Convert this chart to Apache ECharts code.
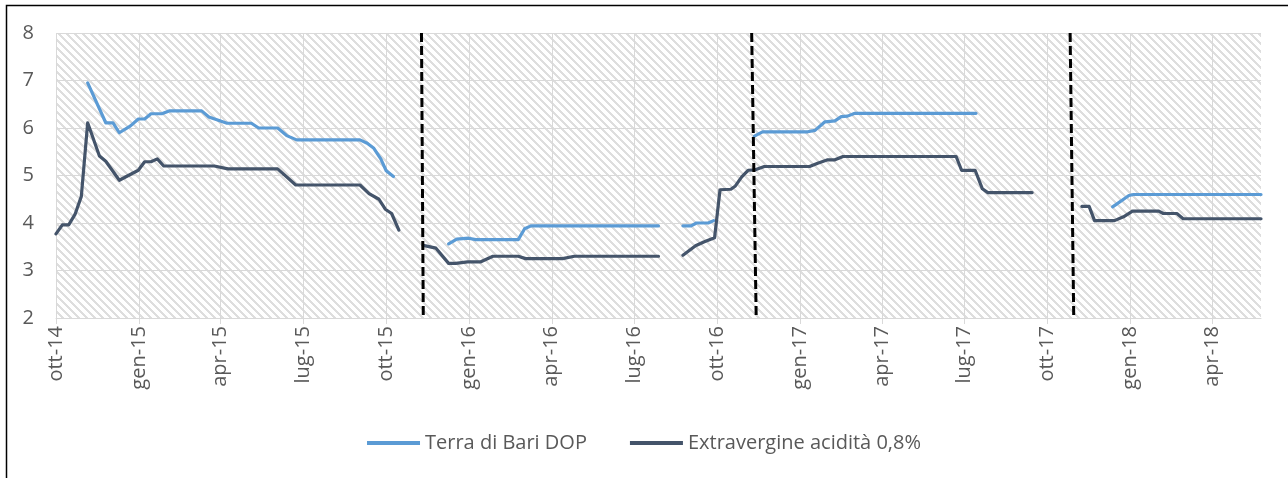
<!DOCTYPE html>
<html><head><meta charset="utf-8">
<script src="https://cdn.jsdelivr.net/npm/echarts@6/dist/echarts.min.js"></script>
<style>html,body{margin:0;padding:0;background:#fff}#c{width:1288px;height:478px}</style>
</head><body><div id="c"></div>
<script>
const seriesNames = ['Terra di Bari DOP', 'Extravergine acidità 0,8%'];

const lightDates = ['2014-11-05','2014-11-25','2014-12-03','2014-12-10','2014-12-22','2014-12-31','2015-01-07','2015-01-14','2015-01-26','2015-02-03','2015-03-11','2015-03-19','2015-04-08','2015-05-05','2015-05-13','2015-06-03','2015-06-13','2015-06-24','2015-09-02','2015-09-10','2015-09-17','2015-09-25','2015-10-01','2015-10-09','2015-11-15','2015-12-09','2015-12-18','2015-12-31','2016-01-08','2016-02-24','2016-03-02','2016-03-09','2016-07-28','2016-08-10','2016-08-24','2016-09-02','2016-09-08','2016-09-21','2016-09-27','2016-10-20','2016-11-11','2016-11-20','2017-01-09','2017-01-17','2017-01-28','2017-02-08','2017-02-15','2017-02-22','2017-03-02','2017-07-14','2017-10-01','2017-12-12','2017-12-30','2018-01-04','2018-05-25'];
const lightValues = [6.95,6.11,6.11,5.90,6.04,6.19,6.19,6.30,6.30,6.36,6.36,6.23,6.10,6.10,6.00,6.00,5.84,5.75,5.75,5.68,5.58,5.35,5.10,4.98,null,3.56,3.66,3.68,3.65,3.65,3.88,3.94,3.94,null,3.94,3.94,4.00,4.00,4.05,null,5.83,5.92,5.92,5.95,6.13,6.15,6.24,6.25,6.31,6.31,null,4.34,4.58,4.60,4.60];

const darkDates = ['2014-10-01','2014-10-08','2014-10-15','2014-10-22','2014-10-29','2014-11-05','2014-11-18','2014-11-25','2014-12-10','2014-12-31','2015-01-07','2015-01-14','2015-01-21','2015-01-28','2015-03-25','2015-04-09','2015-06-03','2015-06-23','2015-09-02','2015-09-12','2015-09-23','2015-09-30','2015-10-07','2015-10-15','2015-10-28','2015-11-11','2015-11-25','2015-12-09','2015-12-17','2015-12-30','2016-01-13','2016-01-27','2016-02-24','2016-03-03','2016-04-13','2016-04-26','2016-07-28','2016-08-10','2016-08-24','2016-09-07','2016-09-16','2016-09-28','2016-10-04','2016-10-16','2016-10-21','2016-10-28','2016-11-04','2016-11-12','2016-11-22','2017-01-11','2017-01-20','2017-01-31','2017-02-08','2017-02-17','2017-06-22','2017-06-28','2017-07-13','2017-07-21','2017-07-27','2017-09-14','2017-10-10','2017-11-08','2017-11-16','2017-11-22','2017-12-14','2017-12-24','2018-01-03','2018-02-01','2018-02-06','2018-02-21','2018-02-28','2018-05-25'];
const darkValues = [3.77,3.96,3.96,4.18,4.56,6.11,5.41,5.30,4.90,5.11,5.29,5.29,5.35,5.20,5.20,5.14,5.14,4.80,4.80,4.62,4.50,4.29,4.20,3.85,null,3.53,3.47,3.15,3.15,3.18,3.18,3.30,3.30,3.25,3.25,3.30,3.30,null,3.32,3.52,3.60,3.69,4.70,4.71,4.78,4.97,5.11,5.12,5.19,5.19,5.26,5.33,5.33,5.40,5.40,5.11,5.11,4.72,4.64,4.64,null,4.35,4.35,4.05,4.05,4.13,4.25,4.25,4.20,4.20,4.09,4.09];

const tickDates = ['2014-10-01','2015-01-01','2015-04-01','2015-07-01','2015-10-01','2016-01-01','2016-04-01','2016-07-01','2016-10-01','2017-01-01','2017-04-01','2017-07-01','2017-10-01','2018-01-01','2018-04-01'];
const tickLabels = ['ott-14','gen-15','apr-15','lug-15','ott-15','gen-16','apr-16','lug-16','ott-16','gen-17','apr-17','lug-17','ott-17','gen-18','apr-18'];
const axisStart = '2014-10-01';
const axisEnd = '2018-05-25';
const separatorTop = ['2015-11-09','2016-11-08','2017-10-26'];
const separatorBottom = ['2015-11-11','2016-11-13','2017-10-30'];
const yMin = 2, yMax = 8, yStep = 1;

// day number (UTC-based, no timezone drift)
function dn(s) { const p = s.split('-').map(Number); return Date.UTC(p[0], p[1] - 1, p[2]) / 86400000; }
function pairs(dates, vals) { return dates.map((d, i) => [dn(d), vals[i] === null ? '-' : vals[i]]); }
const tickDn = tickDates.map(dn);

// hatched plot background
const pat = document.createElement('canvas');
pat.width = 8; pat.height = 8;
const pc = pat.getContext('2d');
pc.fillStyle = '#ffffff'; pc.fillRect(0, 0, 8, 8);
pc.fillStyle = '#dedede';
for (let y = 0; y < 8; y++) for (let x = 0; x < 8; x++) {
  const k = ((x - y) % 8 + 8) % 8;
  if (k < 3) pc.fillRect(x, y, 1, 1);
}

const font = "'Open Sans', 'Noto Sans', sans-serif";
const txt = '#595959';
const grid = '#d9d9d9';

const chart = echarts.init(document.getElementById('c'), null, { renderer: 'canvas' });
chart.setOption({
  animation: false,
  backgroundColor: '#ffffff',
  grid: { left: 56, right: 27, top: 33, bottom: 160, show: true, backgroundColor: { image: pat, repeat: 'repeat' }, borderWidth: 0 },
  xAxis: {
    type: 'value', min: dn(axisStart), max: dn(axisEnd), scale: true,
    axisLine: { show: true, lineStyle: { color: grid, width: 1 } },
    axisTick: { show: true, customValues: tickDn, length: 6, lineStyle: { color: grid } },
    axisLabel: { customValues: tickDn, rotate: 90, margin: 8, color: txt, fontSize: 20, fontFamily: font,
      formatter: v => { const i = tickDn.indexOf(Math.round(v)); return i >= 0 ? tickLabels[i] : ''; } },
    splitLine: { show: true, lineStyle: { color: grid, width: 1 } }
  },
  yAxis: {
    type: 'value', min: yMin, max: yMax, interval: yStep,
    axisLine: { show: false }, axisTick: { show: false },
    axisLabel: { margin: 22, color: txt, fontSize: 20, fontFamily: font },
    splitLine: { show: true, lineStyle: { color: grid, width: 1 } }
  },
  legend: {
    data: seriesNames, top: 428, left: 'center', icon: 'rect', itemWidth: 53, itemHeight: 4, itemGap: 43,
    textStyle: { color: txt, fontSize: 20, fontFamily: font }
  },
  graphic: [{ type: 'rect', left: 4, top: 3, shape: { x: 0, y: 0, width: 1300, height: 500 }, style: { fill: 'none', stroke: '#000', lineWidth: 1.5 }, silent: true }],
  series: [
    { name: seriesNames[0], type: 'line', data: pairs(lightDates, lightValues), showSymbol: false, symbol: 'none', connectNulls: false,
      color: '#5b9bd5', lineStyle: { width: 3.2, color: '#5b9bd5', cap: 'round', join: 'round' }, z: 3 },
    { name: seriesNames[1], type: 'line', data: pairs(darkDates, darkValues), showSymbol: false, symbol: 'none', connectNulls: false,
      color: '#44546a', lineStyle: { width: 3.2, color: '#44546a', cap: 'round', join: 'round' }, z: 4 },
    { name: 'sep', type: 'line', data: [], z: 10, silent: true,
      markLine: { silent: true, symbol: ['none', 'none'], label: { show: false },
        lineStyle: { color: '#000', width: 3, type: [9, 4] },
        data: separatorTop.map((d, i) => [{ coord: [dn(d), yMax] }, { coord: [dn(separatorBottom[i]), yMin] }]) } }
  ]
});
</script></body></html>
